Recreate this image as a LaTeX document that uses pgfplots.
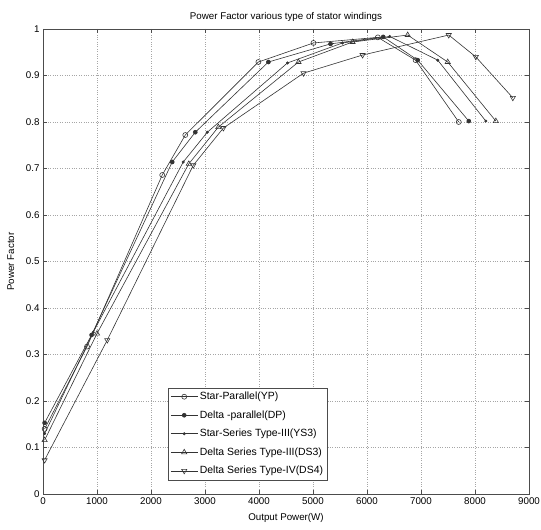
\documentclass[border=0pt]{standalone}
\usepackage{fontspec}
\setmainfont{Liberation Sans}
\usepackage{pgfplots}
\pgfplotsset{compat=1.18}
\begin{document}
\fontsize{9.8pt}{11.5pt}\selectfont
\begin{tikzpicture}
\begin{axis}[
  name=ax,
  scale only axis,
  width=486bp, height=465bp,
  xmin=0, xmax=9000, ymin=0, ymax=1,
  xtick={0,1000,...,9000},
  ytick={0,0.1,...,1},
  scaled ticks=false,
  /pgf/number format/assume math mode=true,
  /pgf/number format/1000 sep={},
  yticklabel style={/pgf/number format/fixed,/pgf/number format/precision=1},
  tick align=inside,
  major tick length=4bp,
  tick style={black!70, line width=0.4pt},
  axis line style={black!70, line width=0.6pt},
  grid=major,
  major grid style={black!35, dotted, line width=0.5pt},
  title={Power Factor various type of stator windings},
  title style={yshift=-2bp},
  xlabel={Output Power(W)},
  ylabel={Power Factor},
  xlabel style={yshift=-2bp},
  ylabel style={yshift=5bp},
  every axis plot/.append style={black!80, line width=0.6pt},
  legend cell align=left,
  legend style={at={(0.257,0.030)}, anchor=south west, draw=black!70,
    font=\fontsize{10.5pt}{12pt}\selectfont, row sep=5.5bp, inner sep=2.5bp},
  legend image code/.code={\draw[mark repeat=2,mark phase=2,#1] plot coordinates {(0cm,0cm) (0.47cm,0cm) (0.94cm,0cm)};},
]
\addplot[mark=o, mark size=2.5pt, mark options={solid,fill=white}] coordinates {
(30,0.14) (815,0.317) (2208,0.686) (2635,0.772) (3989,0.929) (5009,0.970) (6200,0.982) (6900,0.933) (7699,0.800)};
\addlegendentry{Star-Parallel(YP)}
\addplot[mark=*, mark size=2pt] coordinates {
(30,0.153) (900,0.342) (2393,0.714) (2820,0.778) (4174,0.929) (5325,0.968) (6300,0.983) (6939,0.933) (7885,0.802)};
\addlegendentry{Delta -parallel(DP)}
\addplot[mark=*, mark size=1.2pt] coordinates {
(30,0.13) (930,0.348) (2597,0.714) (3043,0.778) (4527,0.927) (5547,0.970) (6420,0.984) (7310,0.933) (8200,0.802)};
\addlegendentry{Star-Series Type-III(YS3)}
\addplot[mark=triangle, mark size=3pt, mark options={solid,fill=white}] coordinates {
(30,0.116) (1000,0.345) (2700,0.710) (3247,0.789) (4731,0.929) (5733,0.972) (6753,0.987) (7495,0.929) (8386,0.802)};
\addlegendentry{Delta Series Type-III(DS3)}
\addplot[mark=triangle, mark size=3pt, mark options={solid,fill=white,rotate=180}] coordinates {
(30,0.073) (1190,0.331) (2783,0.707) (3340,0.787) (4824,0.905) (5918,0.944) (7514,0.987) (8015,0.940) (8701,0.852)};
\addlegendentry{Delta Series Type-IV(DS4)}
\end{axis}
\pgfresetboundingbox
\path ([shift={(-43bp,-36bp)}]ax.south west) rectangle ([shift={(12bp,29bp)}]ax.north east);
\end{tikzpicture}
\end{document}
